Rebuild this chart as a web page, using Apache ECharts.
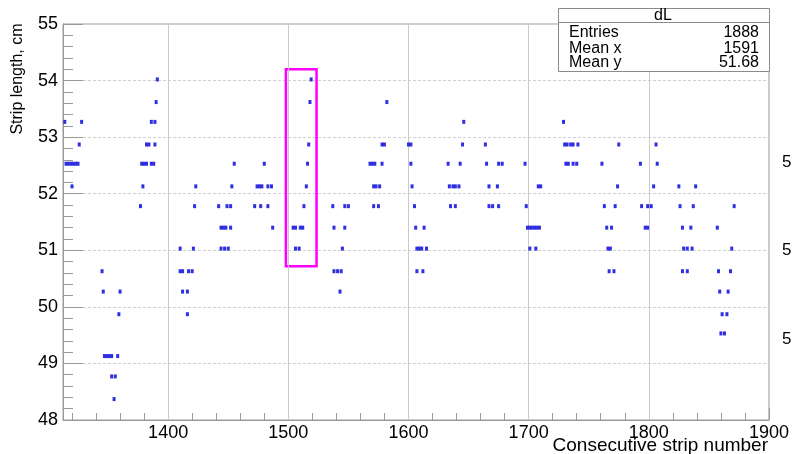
<!DOCTYPE html>
<html><head><meta charset="utf-8">
<script src="https://cdn.jsdelivr.net/npm/echarts@6/dist/echarts.min.js"></script>
<style>html,body{margin:0;padding:0;background:#fff}#c{width:792px;height:454px}</style>
</head><body><div id="c"></div>
<script>
// ---- axis settings / tick labels ----
const xMin = 1312.5, xMax = 1900;
const yMin = 48, yMax = 55;
const xMajorTicks = [1400, 1500, 1600, 1700, 1800, 1900];
const xMinorTicks = [1320, 1340, 1360, 1380, 1420, 1440, 1460, 1480, 1520, 1540, 1560, 1580,
  1620, 1640, 1660, 1680, 1720, 1740, 1760, 1780, 1820, 1840, 1860, 1880];
const xGridLines = [1400, 1500, 1600, 1700, 1800];

// ---- data: strip numbers occupied at each strip-length level ----
const yLevels = [54.02, 53.62, 53.27, 52.87, 52.53, 52.13, 51.78, 51.40, 51.03, 50.63, 50.27, 49.87, 49.53, 49.13, 48.77, 48.37];
const row5402 = [1391, 1519];
const row5362 = [1390, 1518, 1582];
const row5327 = [1314, 1328, 1386, 1389, 1646, 1729];
const row5287 = [1326, 1382, 1384, 1389, 1517, 1578, 1580, 1600, 1602, 1645, 1664, 1730, 1732, 1735, 1737, 1741, 1775, 1806];
const row5253 = [1315, 1317, 1319, 1321, 1323, 1325, 1378, 1380, 1382, 1386, 1388, 1455, 1480, 1516, 1568, 1570, 1572, 1578, 1602, 1633, 1643, 1665, 1675, 1678, 1697, 1731, 1733, 1737, 1740, 1761, 1793, 1807];
const row5213 = [1320, 1379, 1423, 1453, 1474, 1476, 1478, 1483, 1486, 1515, 1571, 1573, 1576, 1603, 1634, 1637, 1639, 1642, 1667, 1674, 1708, 1710, 1774, 1804, 1825, 1839];
const row5178 = [1377, 1422, 1442, 1449, 1452, 1472, 1477, 1483, 1513, 1537, 1547, 1550, 1571, 1575, 1605, 1635, 1639, 1667, 1670, 1675, 1698, 1763, 1772, 1794, 1799, 1802, 1826, 1837, 1871];
const row5140 = [1444, 1446, 1448, 1452, 1487, 1504, 1506, 1510, 1512, 1538, 1547, 1606, 1613, 1699, 1701, 1703, 1705, 1707, 1709, 1765, 1769, 1797, 1799, 1828, 1835, 1857];
const row5103 = [1410, 1421, 1444, 1447, 1450, 1506, 1509, 1545, 1607, 1609, 1611, 1615, 1701, 1706, 1766, 1768, 1829, 1832, 1836, 1869];
const row5063 = [1345, 1410, 1412, 1417, 1420, 1538, 1541, 1544, 1607, 1612, 1767, 1771, 1828, 1832, 1858, 1868];
const row5027 = [1346, 1360, 1412, 1416, 1543, 1859, 1866];
const row4987 = [1359, 1416, 1861, 1865];
const row4953 = [1860, 1863];
const row4913 = [1347, 1349, 1351, 1353, 1358];
const row4877 = [1353, 1356];
const row4837 = [1355];
const rows = [row5402, row5362, row5327, row5287, row5253, row5213, row5178, row5140, row5103, row5063, row5027, row4987, row4953, row4913, row4877, row4837];

// highlighted region (data coordinates)
const boxX = [1498, 1523.5];
const boxY = [50.72, 54.2];

// stats box content
const statsTitle = 'dL';
const statsNames = ['Entries', 'Mean x', 'Mean y'];
const statsValues = ['1888', '1591', '51.68'];
const rightLabels = ['5', '5', '5'];

const points = [];
rows.forEach((r, i) => r.forEach(x => points.push([x, yLevels[i]])));

const FONT = '"Liberation Sans", Arial, Helvetica, sans-serif';
const chart = echarts.init(document.getElementById('c'), null, {renderer: 'canvas'});

const statsGraphics = [
  {type: 'rect', z: 100, shape: {x: 558.5, y: 8.5, width: 211, height: 63}, style: {fill: '#fff', stroke: '#8a8a8a', lineWidth: 1}},
  {type: 'line', z: 101, shape: {x1: 558.5, y1: 22.5, x2: 769.5, y2: 22.5}, style: {stroke: '#8a8a8a', lineWidth: 1}},
  {type: 'text', z: 101, x: 663, y: 16, style: {text: statsTitle, font: '16px ' + FONT, fill: '#000', align: 'center', verticalAlign: 'middle'}}
];
const rowY = [33, 49, 63];
statsNames.forEach((n, i) => {
  statsGraphics.push({type: 'text', z: 101, x: 569, y: rowY[i], style: {text: n, font: '16px ' + FONT, fill: '#000', align: 'left', verticalAlign: 'middle'}});
  statsGraphics.push({type: 'text', z: 101, x: 759, y: rowY[i], style: {text: statsValues[i], font: '16px ' + FONT, fill: '#000', align: 'right', verticalAlign: 'middle'}});
});
const rightY = [162, 250, 339];
rightLabels.forEach((t, i) => {
  statsGraphics.push({type: 'text', x: 782, y: rightY[i], style: {text: t, font: '17px ' + FONT, fill: '#000', align: 'left', verticalAlign: 'middle'}});
});

chart.setOption({
  animation: false,
  backgroundColor: '#fff',
  grid: {left: 63, top: 24, right: 23, bottom: 34, show: true, borderColor: '#9a9a9a', borderWidth: 1, containLabel: false},
  xAxis: [{
    type: 'value', min: xMin, max: xMax, position: 'bottom',
    axisLine: {show: true, onZero: false, lineStyle: {color: '#9a9a9a'}},
    axisTick: {show: true, inside: true, length: 12, customValues: xMajorTicks, lineStyle: {color: '#9a9a9a'}},
    axisLabel: {show: true, customValues: xMajorTicks, margin: 4, fontSize: 18, fontFamily: FONT, color: '#000',
      showMinLabel: true, showMaxLabel: true, formatter: v => String(Math.round(v))},
    splitLine: {show: false}
  }, {
    type: 'value', min: xMin, max: xMax, position: 'bottom',
    axisLine: {show: false, onZero: false},
    axisTick: {show: true, inside: true, length: 7, customValues: xMinorTicks, lineStyle: {color: '#9a9a9a'}},
    axisLabel: {show: false},
    splitLine: {show: false}
  }],
  yAxis: {
    type: 'value', min: yMin, max: yMax, interval: 1,
    axisLine: {show: true, onZero: false, lineStyle: {color: '#9a9a9a'}},
    axisTick: {show: true, inside: true, length: 20, lineStyle: {color: '#9a9a9a'}},
    minorTick: {show: true, splitNumber: 5, length: 10, lineStyle: {color: '#9a9a9a'}},
    axisLabel: {margin: 5, fontSize: 18, fontFamily: FONT, color: '#000', formatter: v => String(Math.round(v))},
    splitLine: {show: true, lineStyle: {color: '#cfcfcf', type: [3, 2], width: 1}}
  },
  graphic: [
    {type: 'text', x: 18, y: 79, rotation: Math.PI / 2, style: {text: 'Strip length, cm', font: '16px ' + FONT, fill: '#000', align: 'center', verticalAlign: 'middle'}},
    {type: 'text', x: 768, y: 446, style: {text: 'Consecutive strip number', font: '19px ' + FONT, fill: '#000', align: 'right', verticalAlign: 'middle'}}
  ].concat(statsGraphics),
  series: [{
    type: 'scatter', xAxisIndex: 0, data: [], silent: true, z: 1,
    markLine: {silent: true, symbol: 'none', label: {show: false}, animation: false,
      lineStyle: {color: '#cacaca', type: 'solid', width: 1},
      data: xGridLines.map(v => ({xAxis: v}))}
  }, {
    type: 'scatter', xAxisIndex: 0, data: points, symbol: 'rect', symbolSize: [3, 4], silent: true, z: 5,
    itemStyle: {color: '#2f2fe0', opacity: 1},
    markArea: {silent: true, z: 4,
      itemStyle: {color: 'rgba(0,0,0,0)', borderColor: '#ff00ff', borderWidth: 2.5},
      label: {show: false},
      data: [[{coord: [boxX[0], boxY[1]]}, {coord: [boxX[1], boxY[0]]}]]}
  }]
});
</script></body></html>
